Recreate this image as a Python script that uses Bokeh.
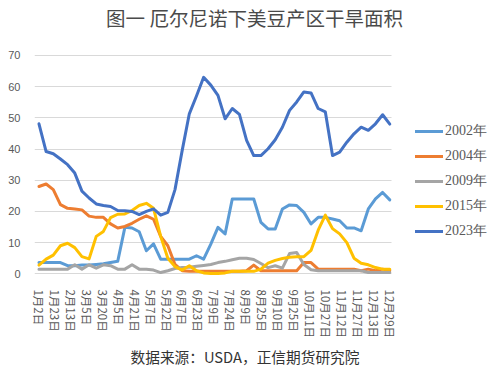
import numpy as np
from bokeh.plotting import figure
from bokeh.models import Range1d, FixedTicker, Legend, LegendItem, Title, Label
from bokeh.embed import file_html
from bokeh.resources import INLINE

date_labels = ["1月2日", "1月23日", "2月13日", "3月5日", "3月20日", "4月5日", "4月21日",
               "5月7日", "5月22日", "6月7日", "6月23日", "7月9日", "7月24日", "8月9日",
               "8月25日", "9月10日", "9月25日", "10月11日", "10月27日", "11月12日",
               "11月27日", "12月13日", "12月29日"]

y2002 = [3.6, 3.6, 3.6, 3.6, 2.6, 2.6, 2.8, 2.8, 3.0, 3.2, 3.6, 4.0, 14.9, 14.7, 13.5, 7.4,
         9.6, 4.7, 4.7, 4.7, 4.7, 4.7, 5.8, 4.7, 9.5, 14.9, 12.8, 24.0, 24.0, 24.0, 24.0, 16.5,
         14.4, 14.4, 20.8, 22.1, 21.9, 19.7, 16.0, 18.1, 18.1, 17.6, 17.0, 14.7, 14.7, 13.8,
         20.8, 24.0, 26.1, 23.7]
y2004 = [28.0, 28.8, 27.0, 22.2, 21.0, 20.8, 20.5, 18.5, 18.1, 18.1, 16.0, 14.7, 15.2, 16.2,
         17.5, 18.6, 17.5, 12.0, 9.0, 3.0, 1.0, 0.8, 0.8, 0.8, 0.8, 0.8, 0.8, 0.8, 0.8, 1.0,
         2.8, 1.0, 1.0, 1.0, 1.0, 1.0, 1.0, 3.6, 3.6, 1.5, 1.5, 1.5, 1.5, 1.5, 1.5, 1.0, 1.5,
         1.0, 1.5, 1.0]
y2009 = [1.5, 1.5, 1.5, 1.5, 1.5, 2.9, 1.5, 2.9, 1.8, 2.9, 2.6, 1.5, 1.5, 2.9, 1.5, 1.5, 1.2,
         0.4, 1.0, 1.7, 2.0, 2.1, 2.4, 2.7, 3.0, 3.6, 4.0, 4.5, 5.0, 5.0, 4.6, 3.3, 2.0, 2.6,
         1.8, 6.5, 6.8, 3.0, 1.3, 1.0, 1.0, 1.0, 1.0, 1.0, 1.0, 1.0, 0.4, 0.4, 0.4, 0.4]
y2015 = [2.8, 4.7, 6.0, 9.0, 9.8, 8.4, 5.5, 4.8, 12.0, 13.6, 18.0, 19.1, 19.2, 20.3, 21.9,
         22.6, 21.0, 12.0, 5.0, 2.3, 1.2, 2.6, 1.0, 0.3, 0.1, 0.1, 0.3, 0.8, 0.8, 0.8, 0.8,
         1.5, 3.4, 4.3, 4.9, 5.3, 5.5, 5.5, 7.5, 14.0, 18.8, 14.5, 12.8, 10.0, 5.0, 3.4, 2.9,
         2.0, 1.5, 1.5]
y2023 = [48.1, 39.2, 38.5, 36.8, 35.0, 32.3, 26.5, 24.3, 22.4, 21.9, 21.6, 20.3, 20.2, 20.0,
         19.0, 20.0, 20.8, 18.8, 19.7, 27.0, 39.5, 51.3, 57.0, 63.0, 60.5, 57.2, 49.7, 53.0,
         51.1, 42.8, 37.9, 37.9, 40.1, 43.0, 47.0, 52.4, 55.1, 58.3, 58.0, 53.0, 51.9, 37.9,
         39.0, 42.2, 44.9, 47.0, 46.0, 48.1, 51.0, 48.0]

series_names = ["2002年", "2004年", "2009年", "2015年", "2023年"]
series_values = [y2002, y2004, y2009, y2015, y2023]
series_colors = ["#5B9BD5", "#ED7D31", "#A5A5A5", "#FFC000", "#4472C4"]
y_ticks = [0, 10, 20, 30, 40, 50, 60, 70]

n_pts = len(y2023)
n_lab = len(date_labels)
# x positions expressed in label units (ticks fall on integers)
xs = np.arange(n_pts) * (n_lab - 1) / (n_pts - 1)

# plot area spans x in [-0.28, 22.11]; the frame is widened to the right for the legend
# and heightened to the top for the title
x_lo, x_hi = -0.28, n_lab - 1 + 0.11
p = figure(width=499, height=383, output_backend="svg", toolbar_location=None,
           x_range=Range1d(x_lo, 28.88), y_range=Range1d(-1.5, 87.63),
           min_border_left=34, min_border_right=0, min_border_top=0, min_border_bottom=105)
p.outline_line_color = None
p.background_fill_color = "white"
p.border_fill_color = "white"

# axes
p.yaxis.ticker = FixedTicker(ticks=y_ticks)
p.yaxis.axis_line_color = None
p.yaxis.major_tick_line_color = None
p.yaxis.minor_tick_line_color = None
p.yaxis.major_label_text_font = "Liberation Sans"
p.yaxis.major_label_text_font_size = "11px"
p.yaxis.major_label_text_color = "#595959"
p.yaxis.major_label_standoff = 8

p.xaxis.ticker = FixedTicker(ticks=list(range(n_lab)))
p.xaxis.major_label_overrides = {i: lab for i, lab in enumerate(date_labels)}
p.xaxis.major_label_orientation = "vertical"
p.xaxis.axis_line_color = None
p.xaxis.major_tick_line_color = None
p.xaxis.minor_tick_line_color = None
p.xaxis.major_label_text_font = "Noto Sans CJK SC"
p.xaxis.major_label_text_font_size = "11.5px"
p.xaxis.major_label_text_color = "#595959"
p.xaxis.major_label_standoff = 5

p.xgrid.grid_line_color = None
p.ygrid.ticker = FixedTicker(ticks=y_ticks)
p.ygrid.cross_bounds = (x_lo, x_hi)
p.ygrid.grid_line_color = "#D9D9D9"
p.ygrid.grid_line_width = 1

items = []
for name, vals, col in zip(series_names, series_values, series_colors):
    r = p.line(xs, vals, line_color=col, line_width=3, line_join="round", line_cap="round")
    items.append(LegendItem(label=name, renderers=[r]))

legend = Legend(items=items, location=(381, 37), orientation="vertical",
                glyph_width=28, glyph_height=20, label_height=20, spacing=5,
                padding=0, margin=0, label_standoff=2,
                label_text_font="Liberation Serif", label_text_font_size="14px",
                label_text_color="#595959", border_line_color=None,
                background_fill_alpha=0)
p.add_layout(legend, "center")

p.add_layout(Label(x=220, y=261, x_units="screen", y_units="screen",
                   text="图一 厄尔尼诺下美豆产区干旱面积", text_align="center",
                   text_baseline="middle", text_font="Noto Sans CJK SC",
                   text_font_size="19.5px", text_color="#4a4a4a"))
p.add_layout(Title(text="数据来源：USDA，正信期货研究院", align="left", offset=96,
                   standoff=4, text_font="Noto Sans CJK SC", text_font_size="14.7px",
                   text_font_style="normal", text_color="#333333"), "below")

open("out.html", "w").write(file_html(p, INLINE))
